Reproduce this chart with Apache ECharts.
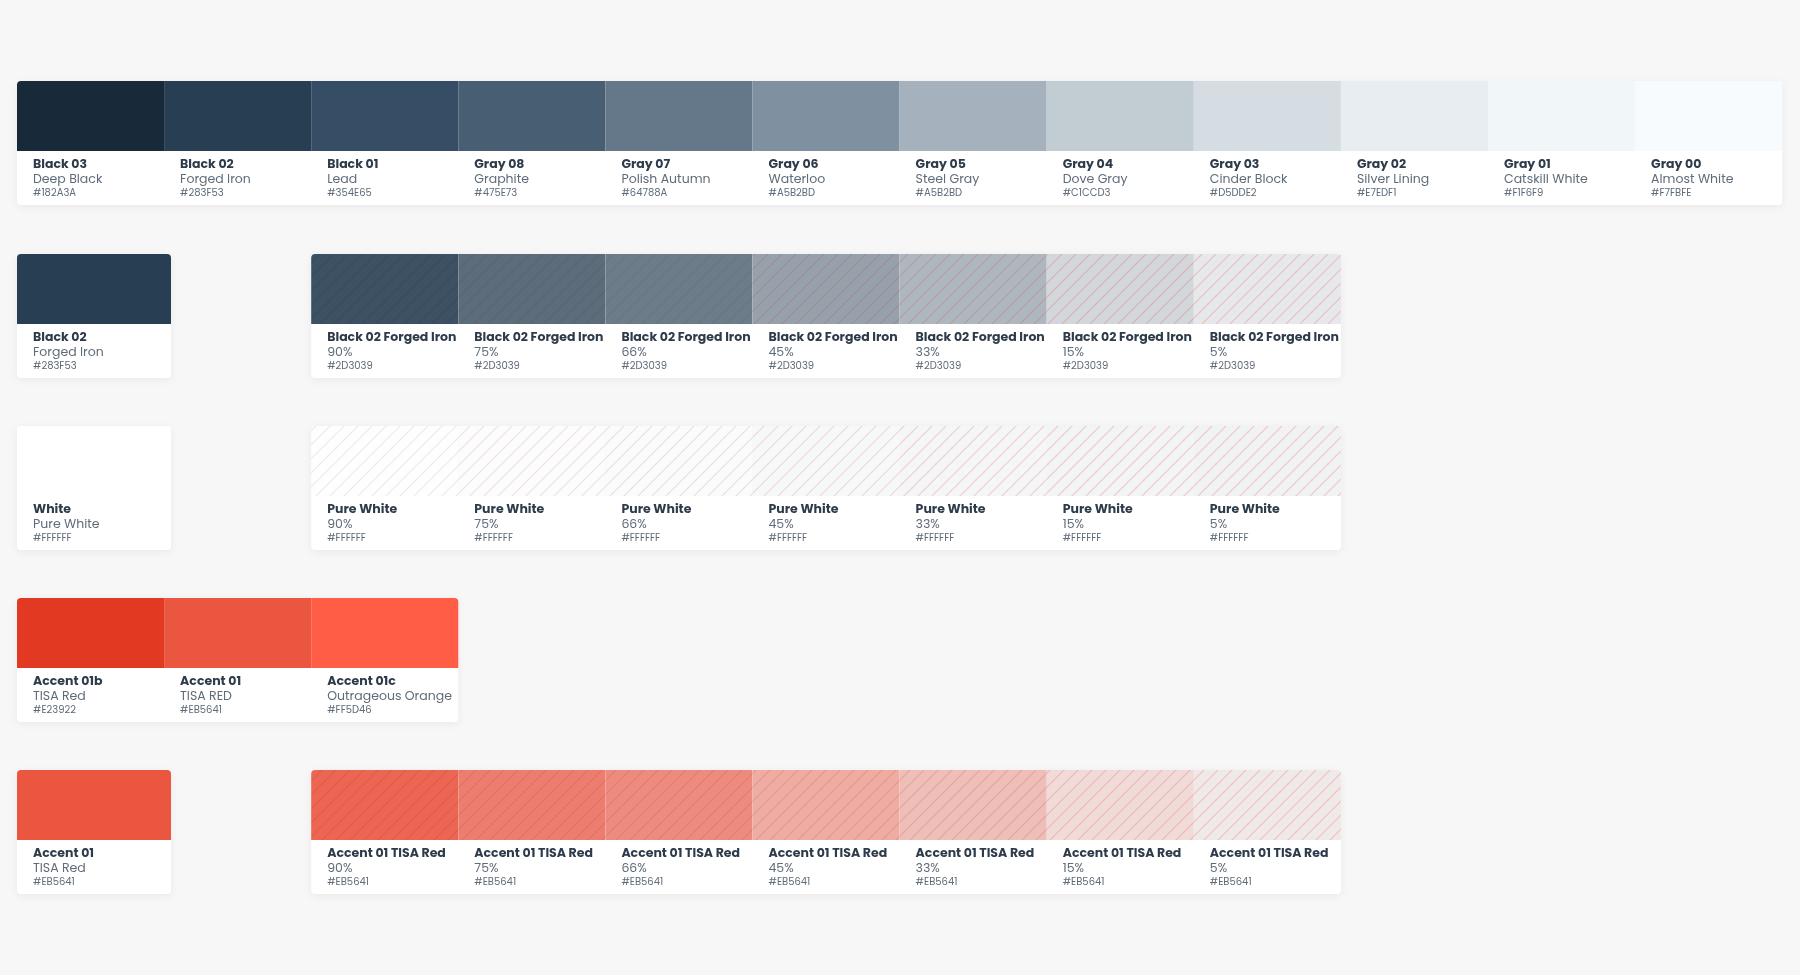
<!DOCTYPE html>
<html><head><meta charset="utf-8">
<script src="https://cdn.jsdelivr.net/npm/echarts@6/dist/echarts.min.js"></script>
<style>html,body{margin:0;background:#F7F7F7}#c{width:1800px;height:975px}</style>
</head><body><div id="c"></div>
<script>
// ---- data ----
const grayTitles = ['Black 03','Black 02','Black 01','Gray 08','Gray 07','Gray 06','Gray 05','Gray 04','Gray 03','Gray 02','Gray 01','Gray 00'];
const grayNames = ['Deep Black','Forged Iron','Lead','Graphite','Polish Autumn','Waterloo','Steel Gray','Dove Gray','Cinder Block','Silver Lining','Catskill White','Almost White'];
const grayHex = ['#182A3A','#283F53','#354E65','#475E73','#64788A','#7F91A0','#A5B2BD','#C1CCD3','#D5DDE2','#E7EDF1','#F1F6F9','#F7FBFE'];
const grayLabelHex = ['#182A3A','#283F53','#354E65','#475E73','#64788A','#A5B2BD','#A5B2BD','#C1CCD3','#D5DDE2','#E7EDF1','#F1F6F9','#F7FBFE'];
const tintLevels = [90,75,66,45,33,15,5];
const accentTitles = ['Accent 01b','Accent 01','Accent 01c'];
const accentNames = ['TISA Red','TISA RED','Outrageous Orange'];
const accentHex = ['#E23922','#EB5641','#FF5D46'];
const tintRows = [
  {row:1, base:'#283F53', title:'Black 02', sub:'Forged Iron', hex:'#283F53', tintTitle:'Black 02 Forged Iron', tintHex:'#2D3039'},
  {row:2, base:'#FFFFFF', title:'White', sub:'Pure White', hex:'#FFFFFF', tintTitle:'Pure White', tintHex:'#FFFFFF'},
  {row:4, base:'#EB5641', title:'Accent 01', sub:'TISA Red', hex:'#EB5641', tintTitle:'Accent 01 TISA Red', tintHex:'#EB5641'}
];

// ---- layout ----
const X0 = 17, CW = 147.1, ROWTOP = [81,254,426,598,770], SWH = 70, CARDH = 124, SINGLEW = 154;
const TXT = '#2E3B4A', SUB = '#5E6B78';
const FONT = '"Poppins","Lato","Noto Sans",sans-serif';

function makePattern(color){
  const c = document.createElement('canvas'); c.width = 14; c.height = 14;
  const g = c.getContext('2d'); g.strokeStyle = color; g.lineWidth = 1.2;
  g.beginPath(); g.moveTo(0,14); g.lineTo(14,0); g.moveTo(-7,7); g.lineTo(7,-7); g.moveTo(7,21); g.lineTo(21,7); g.stroke();
  return c;
}
const pinkPat = makePattern('rgba(235,86,65,1)');
const darkPat = makePattern('rgba(0,0,0,1)');

function hexToRgba(h,a){const n=parseInt(h.slice(1),16);return `rgba(${n>>16},${(n>>8)&255},${n&255},${a})`;}

// items: [col, row, kind, idx]; kind 0=gray,1=single,2=tint,3=accent
const cards = [[0,0,12],[0,1,-1],[2,1,7],[0,2,-1],[2,2,7],[0,3,3],[0,4,-1],[2,4,7]];
const cells = [];
grayHex.forEach((h,i)=>cells.push([i,0,0,i]));
tintRows.forEach((t,ti)=>{cells.push([0,t.row,1,ti]); tintLevels.forEach((l,li)=>cells.push([2+li,t.row,2,ti*10+li]));});
accentHex.forEach((h,i)=>cells.push([i,3,3,i]));

function txt(x,y,s,font,fill){return {type:'text',style:{x,y,text:s,font,fill,textVerticalAlign:'top'}};}

function cardItem(params, api){
  const col=api.value(0), row=api.value(1), span=api.value(2);
  const p = api.coord([X0+col*CW, ROWTOP[row]]);
  const w = span<0 ? SINGLEW : span*CW;
  return {type:'rect', shape:{x:p[0],y:p[1],width:w,height:CARDH,r:4},
    style:{fill:'#fff', shadowBlur:10, shadowColor:'rgba(0,0,0,0.06)', shadowOffsetY:2}};
}
function cellItem(params, api){
  const col=api.value(0), row=api.value(1), kind=api.value(2), idx=api.value(3);
  const p = api.coord([X0+col*CW, ROWTOP[row]]);
  const x=p[0], y=p[1];
  let w = kind===1 ? SINGLEW : CW;
  const ch=[]; let fill, t1, t2, t3, r=[0,0,0,0], alpha=1;
  if(kind===0){fill=grayHex[idx]; t1=grayTitles[idx]; t2=grayNames[idx]; t3=grayLabelHex[idx]; if(idx===0) r=[4,0,0,0]; if(idx===11) r=[0,4,0,0];}
  else if(kind===3){fill=accentHex[idx]; t1=accentTitles[idx]; t2=accentNames[idx]; t3=accentHex[idx]; if(idx===0) r=[4,0,0,0]; if(idx===2) r=[0,4,0,0];}
  else if(kind===1){const t=tintRows[idx]; fill=t.base; t1=t.title; t2=t.sub; t3=t.hex; r=[4,4,0,0];}
  else {const t=tintRows[Math.floor(idx/10)], li=idx%10; alpha=tintLevels[li]/100; fill=hexToRgba(t.base,alpha); t1=t.tintTitle; t2=tintLevels[li]+'%'; t3=t.tintHex; if(li===0) r=[4,0,0,0]; if(li===6) r=[0,4,0,0];}
  if(kind===2) ch.push({type:'rect',shape:{x,y,width:w,height:SWH,r},style:{fill:'#F1F2F4'}});
  ch.push({type:'rect',shape:{x,y,width:w,height:SWH,r},style:{fill}});
  if(kind===2){
    ch.push({type:'rect',shape:{x,y,width:w,height:SWH},style:{fill:{image:pinkPat,repeat:'repeat'},opacity:0.28*(1-alpha)}});
    ch.push({type:'rect',shape:{x,y,width:w,height:SWH},style:{fill:{image:darkPat,repeat:'repeat'},opacity:0.07*alpha}});
  }
  const tx = x+16;
  ch.push(txt(tx,y+77,t1,'bold 12.5px '+FONT,TXT));
  ch.push(txt(tx,y+92,t2,'12.5px '+FONT,SUB));
  ch.push(txt(tx,y+107,t3,'10px '+FONT,SUB));
  return {type:'group',children:ch};
}

const chart = echarts.init(document.getElementById('c'));
chart.setOption({
  backgroundColor:'#F7F7F7', animation:false,
  grid:{left:0,right:0,top:0,bottom:0},
  xAxis:{type:'value',min:0,max:1800,show:false},
  yAxis:{type:'value',min:0,max:975,inverse:true,show:false},
  series:[
    {type:'custom',renderItem:cardItem,data:cards,silent:true},
    {type:'custom',renderItem:cellItem,data:cells,silent:true}
  ]
});
</script></body></html>
